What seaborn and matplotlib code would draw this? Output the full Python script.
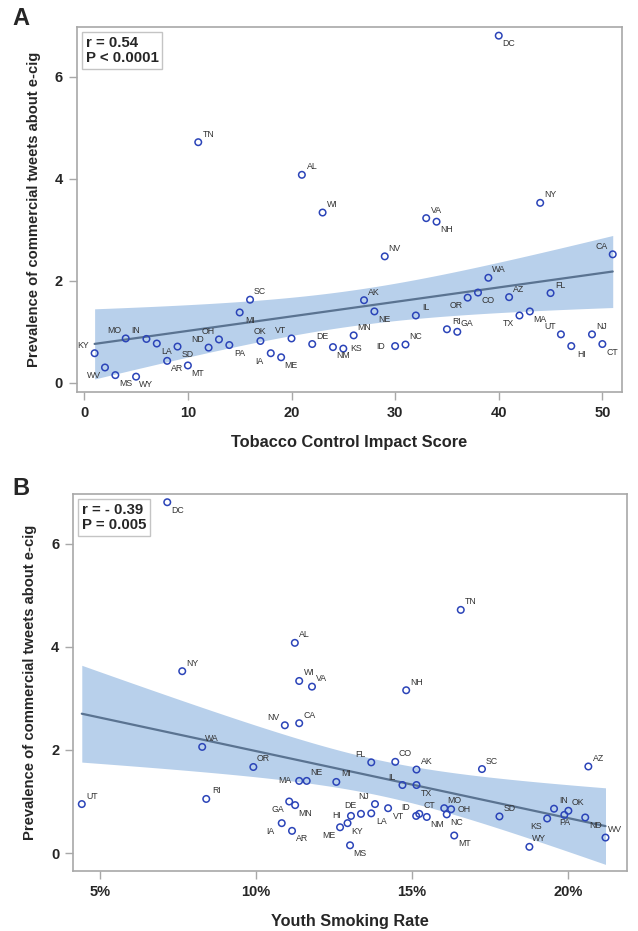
import matplotlib
matplotlib.use('Agg')
import matplotlib.pyplot as plt
import numpy as np
import pandas as pd
import seaborn as sns
from matplotlib.ticker import PercentFormatter

# state-level values
states = ['KY', 'WV', 'MS', 'MO', 'WY', 'IN', 'LA', 'AR', 'SD', 'MT', 'TN', 'ND', 'OH',
          'PA', 'MI', 'SC', 'OK', 'IA', 'ME', 'VT', 'AL', 'DE', 'WI', 'NM', 'KS', 'MN',
          'AK', 'NE', 'NV', 'ID', 'NC', 'IL', 'VA', 'NH', 'RI', 'GA', 'OR', 'CO', 'WA',
          'DC', 'AZ', 'TX', 'MA', 'NY', 'FL', 'UT', 'HI', 'NJ', 'CT', 'CA']
impact_score = [1, 2, 3, 4, 5, 6, 7, 8, 9, 10, 11, 12, 13, 14, 15, 16, 17, 18, 19, 20,
                21, 22, 23, 24, 25, 26, 27, 28, 29, 30, 31, 32, 33, 34, 35, 36, 37, 38,
                39, 40, 41, 42, 43, 44, 45, 46, 47, 49, 50, 51]
youth_smoking = [12.93, 21.2, 13.01, 16.03, 18.76, 19.55, 13.69, 11.15, 17.8, 16.35,
                 16.56, 20.55, 16.25, 19.88, 12.57, 17.24, 20.01, 10.82, 12.69, 14.23,
                 11.24, 13.36, 11.38, 15.47, 19.33, 11.25, 15.14, 11.62, 10.92, 15.13,
                 16.11, 14.69, 11.79, 14.81, 8.40, 11.06, 9.91, 14.46, 8.27, 7.15,
                 20.65, 15.14, 11.38, 7.63, 13.69, 4.41, 13.04, 13.81, 15.23, 11.38]
prevalence = [0.58, 0.30, 0.15, 0.87, 0.12, 0.86, 0.77, 0.43, 0.71, 0.34, 4.72, 0.69,
              0.85, 0.74, 1.38, 1.63, 0.82, 0.58, 0.50, 0.87, 4.08, 0.76, 3.34, 0.70,
              0.67, 0.93, 1.62, 1.40, 2.48, 0.72, 0.75, 1.32, 3.23, 3.16, 1.05, 1.00,
              1.67, 1.77, 2.06, 6.81, 1.68, 1.32, 1.40, 3.53, 1.76, 0.95, 0.72, 0.95,
              0.76, 2.52]

df = pd.DataFrame({'state': states, 'score': impact_score,
                   'youth': youth_smoking, 'prev': prevalence})

# where each state label sits around its marker
label_pos_a = {'KY': 'UL', 'WV': 'LL', 'MS': 'LR', 'MO': 'UL', 'WY': 'LR', 'IN': 'UL',
               'LA': 'LR', 'AR': 'LR', 'SD': 'LR', 'MT': 'LR', 'TN': 'UR', 'ND': 'UL',
               'OH': 'UL', 'PA': 'LR', 'MI': 'LR', 'SC': 'UR', 'OK': 'U', 'IA': 'LL',
               'ME': 'LR', 'VT': 'UL', 'AL': 'UR', 'DE': 'UR', 'WI': 'UR', 'NM': 'LR',
               'KS': 'R', 'MN': 'UR', 'AK': 'UR', 'NE': 'LR', 'NV': 'UR', 'ID': 'L',
               'NC': 'UR', 'IL': 'UR', 'VA': 'UR', 'NH': 'LR', 'RI': 'UR', 'GA': 'UR',
               'OR': 'LL', 'CO': 'LR', 'WA': 'UR', 'DC': 'LR', 'AZ': 'UR', 'TX': 'LL',
               'MA': 'LR', 'NY': 'UR', 'FL': 'UR', 'UT': 'UL', 'HI': 'LR', 'NJ': 'UR',
               'CT': 'LR', 'CA': 'UL'}
label_pos_b = {'DC': 'LR', 'AL': 'UR', 'TN': 'UR', 'NY': 'UR', 'WA': 'UR', 'RI': 'UR',
               'UT': 'UR', 'OR': 'UR', 'WI': 'UR', 'VA': 'UR', 'NH': 'UR', 'NV': 'UL',
               'CA': 'UR', 'FL': 'UL', 'CO': 'UR', 'AK': 'UR', 'MA': 'L', 'NE': 'UR',
               'MI': 'UR', 'IL': 'UL', 'TX': 'LR', 'GA': 'LL', 'MN': 'LR', 'NJ': 'UL',
               'DE': 'UL', 'LA': 'LR', 'VT': 'LR', 'HI': 'L', 'KY': 'LR', 'ME': 'LL',
               'IA': 'LL', 'AR': 'LR', 'MS': 'LR', 'ID': 'UL', 'CT': 'UR', 'NM': 'LR',
               'MO': 'UR', 'OH': 'R', 'NC': 'LR', 'MT': 'LR', 'SC': 'UR', 'SD': 'UR',
               'WY': 'UR', 'KS': 'LL', 'IN': 'UR', 'OK': 'UR', 'PA': 'D', 'ND': 'LR',
               'AZ': 'UR', 'WV': 'UR'}
OFFSETS = {'UR': (10, 8), 'LR': (10, -8), 'UL': (-11, 8), 'LL': (-11, -8),
           'R': (13, 0), 'L': (-14, 0), 'U': (0, 9), 'D': (0, -8)}

point_color = '#2b44b8'
line_color = '#5a7391'
band_color = '#b8d0eb'
spine_color = '#a8a8a8'
T_975 = 2.0106  # t quantile, 48 df

sns.set_style('white')
plt.rcParams['font.family'] = ['Liberation Sans', 'DejaVu Sans']

fig = plt.figure(figsize=(6.38, 9.31), dpi=100)
ax_a = fig.add_axes([0.1207, 0.579, 0.8543, 0.392])
ax_b = fig.add_axes([0.1150, 0.0644, 0.8673, 0.4050])


def fit_band(ax, x, y):
    # 95% confidence band of the OLS fit
    x = np.asarray(x, float)
    y = np.asarray(y, float)
    n = len(x)
    b1, b0 = np.polyfit(x, y, 1)
    s = np.sqrt(np.sum((y - (b0 + b1 * x)) ** 2) / (n - 2))
    xs = np.linspace(x.min(), x.max(), 200)
    se = s * np.sqrt(1 / n + (xs - x.mean()) ** 2 / np.sum((x - x.mean()) ** 2))
    yh = b0 + b1 * xs
    ax.fill_between(xs, yh - T_975 * se, yh + T_975 * se, color=band_color, lw=0, zorder=1)


def draw_panel(ax, xcol, label_pos, stats_text):
    fit_band(ax, df[xcol], df['prev'])
    sns.regplot(data=df, x=xcol, y='prev', ax=ax, scatter=False, ci=None,
                color=line_color, line_kws={'lw': 1.6, 'zorder': 2})
    sns.scatterplot(data=df, x=xcol, y='prev', ax=ax, marker='o', s=22,
                    facecolor='none', edgecolor=point_color, linewidth=1.1, zorder=3)
    for st, xv, yv in zip(df['state'], df[xcol], df['prev']):
        dx, dy = OFFSETS[label_pos[st]]
        ax.annotate(st, (xv, yv), xytext=(dx, dy), textcoords='offset pixels',
                    ha='center', va='center', fontsize=6.3, color='#333333', zorder=4)
    ax.text(0.016, 0.976, stats_text, transform=ax.transAxes, ha='left', va='top',
            fontsize=10.8, fontweight='bold', linespacing=1.12,
            bbox=dict(boxstyle='square,pad=0.25', fc='white', ec='#c4c4c4', lw=1))
    for s in ax.spines.values():
        s.set_color(spine_color)
        s.set_linewidth(1.2)
    ax.tick_params(axis='both', direction='out', length=6, width=1, color=spine_color,
                   labelsize=10.5, pad=4, bottom=True, left=True)
    ax.set_ylabel('Prevalence of commercial tweets about e-cig', fontsize=10.6,
                  fontweight='bold', labelpad=10)


# Panel A
draw_panel(ax_a, 'score', label_pos_a, 'r = 0.54\nP < 0.0001')
ax_a.set_xlim(-0.7, 51.9)
ax_a.set_ylim(-0.18, 6.98)
ax_a.set_xticks([0, 10, 20, 30, 40, 50])
ax_a.set_yticks([0, 2, 4, 6])
for lab in ax_a.get_xticklabels() + ax_a.get_yticklabels():
    lab.set_fontweight('bold')
ax_a.set_xlabel('Tobacco Control Impact Score', fontsize=11.8, fontweight='bold',
                labelpad=11)

# Panel B
draw_panel(ax_b, 'youth', label_pos_b, 'r = - 0.39\nP = 0.005')
ax_b.set_xlim(4.14, 21.88)
ax_b.set_ylim(-0.35, 6.97)
ax_b.set_xticks([5, 10, 15, 20])
ax_b.set_yticks([0, 2, 4, 6])
ax_b.xaxis.set_major_formatter(PercentFormatter(xmax=100, decimals=0))
for lab in ax_b.get_xticklabels() + ax_b.get_yticklabels():
    lab.set_fontweight('bold')
ax_b.set_xlabel('Youth Smoking Rate', fontsize=11.7, fontweight='bold', labelpad=11)

fig.text(0.019, 0.992, 'A', fontsize=17, fontweight='bold', ha='left', va='top')
fig.text(0.019, 0.488, 'B', fontsize=17, fontweight='bold', ha='left', va='top')

fig.savefig('out.png', dpi=100)
